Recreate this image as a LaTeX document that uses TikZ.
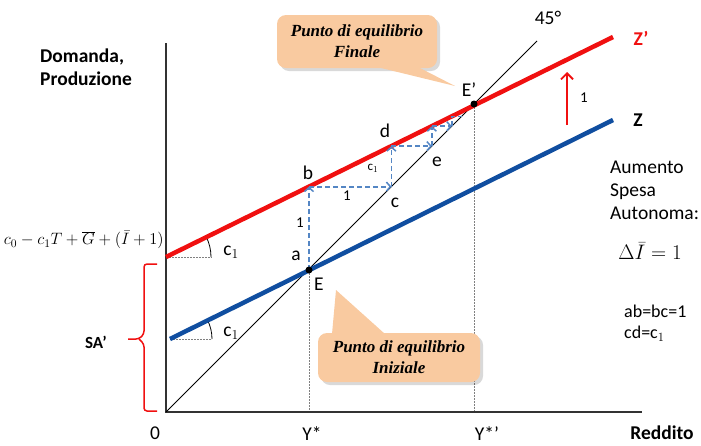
\documentclass[tikz,border=0pt]{standalone}
\usepackage{fix-cm}
\usepackage{fontspec}
\setmainfont{Carlito}
\newfontfamily\tms{Liberation Serif}
\usetikzlibrary{arrows.meta}
\definecolor{zred}{RGB}{240,16,16}
\definecolor{zblue}{RGB}{16,78,160}
\definecolor{stepblue}{RGB}{84,134,196}
\definecolor{callfill}{RGB}{249,202,160}
\definecolor{axisgray}{RGB}{50,50,50}
\tikzset{
  lbl/.style={inner sep=0pt, font=\fontsize{19.5}{23}\selectfont},
  blbl/.style={inner sep=0pt, font=\fontsize{19.5}{23}\selectfont\bfseries},
  stepar/.style={stepblue, line width=1.8pt, dash pattern=on 5pt off 3pt, -{Straight Barb[length=4pt,width=9pt,line width=1.5pt]}},
  callout/.style={fill=callfill},
  shadowfill/.style={fill=black, opacity=0.15},
  calltext/.style={inner sep=0pt, align=center, font=\tms\fontsize{17}{21}\selectfont\bfseries\itshape},
  guide/.style={gray, line width=0.9pt, dash pattern=on 1.5pt off 1.5pt},
}
\begin{document}
\begin{tikzpicture}[x=1pt,y=-1pt]
\useasboundingbox (0,0) rectangle (701,445);
% key points
\coordinate (O) at (166,412);
\coordinate (Ytop) at (166,43);
\coordinate (Xend) at (642,412);
\coordinate (L45) at (537,41);
\coordinate (E) at (309,270);
\coordinate (Ep) at (474,104);
\coordinate (Zs) at (170,339);
\coordinate (Ze) at (613,120);
\coordinate (Zps) at (166,257);
\coordinate (Zpe) at (613,37);
\coordinate (b) at (309,186.6);
\coordinate (c) at (391.4,186.6);
\coordinate (d) at (391.4,146.1);
\coordinate (e) at (431.9,146.1);
\coordinate (f) at (431.9,126.2);
\coordinate (g) at (451.8,126.2);
\coordinate (h) at (451.8,116.4);
\coordinate (i) at (461.6,116.4);

% guides
\draw[guide] (E) -- (E|-O);
\draw[guide] (Ep) -- (Ep|-O);
\draw[guide] (Zps) -- (212,257) coordinate (zpd);
\draw[guide] (Zs) -- (212,339) coordinate (zd);
\draw[black, line width=0.8pt] (211,257) arc[start angle=0, end angle=27, radius=45pt];
\draw[black, line width=0.8pt] (212,339) arc[start angle=0, end angle=27, radius=42pt];

% axes
\draw[axisgray, line width=1.8pt] (Ytop) -- (O) -- (Xend);
% 45 line
\draw[black, line width=1pt] (O) -- (L45);
% Z lines
\draw[zblue, line width=4.5pt] (Zs) -- (Ze);
\draw[zred, line width=4.5pt] (Zps) -- (Zpe);

% steps
\draw[stepar] (E) -- (b);
\draw[stepar] (b) -- (c);
\draw[stepar] (c) -- (d);
\draw[stepar] (d) -- (e);
\draw[stepar] (e) -- (f);
\draw[stepar] (f) -- (g);
\draw[stepar, -] (g) -- (h) -- (i);

% equilibrium points
\fill (E) circle (3.5pt);
\fill (Ep) circle (3.5pt);

% shift arrow
\coordinate (ra1) at (567,125);
\coordinate (ra2) at (567,72);
\draw[zred, line width=1.8pt, -{Straight Barb[length=6pt,width=12pt,line width=1.8pt]}] (ra1) -- (ra2);
\node[lbl, font=\fontsize{15}{18}\selectfont] (one3) at (584,98) {1};

% brace
\draw[zred, line width=1.5pt, rounded corners=3pt] (157,264) -- (144,264) -- (144,334) -- (139,339) -- (128,339);
\draw[zred, line width=1.5pt, rounded corners=3pt] (139,339) -- (144,344) -- (144,411) -- (157,411);
\node[blbl, font=\fontsize{17}{20}\selectfont\bfseries] (SA) at (96,342) {SA’};

% callout Finale
\fill[shadowfill, rounded corners=9pt] (280,18) rectangle (440,71);
\fill[callout, rounded corners=9pt] (277,15) rectangle (437,68);
\fill[callout] (377,67) -- (455,86) -- (418,67) -- cycle;
\node[calltext] (fin) at (357,41) {Punto di equilibrio\\Finale};

% callout Iniziale
\fill[shadowfill, rounded corners=9pt] (321,336) rectangle (483,385);
\fill[callout, rounded corners=9pt] (318,333) rectangle (480,382);
\fill[callout] (332,334) -- (336,290) -- (385,334) -- cycle;
\node[calltext] (ini) at (399,357) {Punto di equilibrio\\Iniziale};

% labels
\node[blbl, anchor=west, align=left] (dom) at (40,67) {Domanda,\\Produzione};
\node[blbl] (red) at (662,433) {Reddito};
\node[lbl] (zero) at (155,433) {0};
\node[lbl] (ys) at (312,434) {Y*};
\node[lbl] (ysp) at (487,434) {Y*’};
\node[lbl] (deg) at (548,18) {45°};
\node[blbl, text=zred] (zpl) at (641,38) {Z’};
\node[blbl] (zl) at (638,120) {Z};
\node[lbl] (Epl) at (469,90) {E’};
\node[lbl] (El) at (319,284) {E};
\node[lbl] (al) at (296,256) {a};
\node[lbl] (bl) at (308,173) {b};
\node[lbl] (cl) at (395,203) {c};
\node[lbl] (dl) at (385,131) {d};
\node[lbl] (el) at (437,162) {e};
\node[lbl, font=\fontsize{13}{15}\selectfont] (c1s) at (373,168) {c$_1$};
\node[lbl, font=\fontsize{15}{18}\selectfont] (one1) at (300,223) {1};
\node[lbl, font=\fontsize{15}{18}\selectfont] (one2) at (347,196) {1};
\node[lbl] (c1a) at (231,252) {c$_1$};
\node[lbl] (c1b) at (231,333) {c$_1$};
\node[inner sep=0pt, anchor=east, font=\fontsize{16.5}{20}\selectfont] (form) at (164,240) {$c_0 - c_1T + \overline{G} + (\bar{I}+1)$};
\node[lbl, anchor=west, align=left] (aum) at (610,190) {Aumento\\Spesa\\Autonoma:};
\node[inner sep=0pt, font=\fontsize{21}{25}\selectfont] (dI) at (650,251) {$\Delta\bar{I} = 1$};
\node[lbl, anchor=west, align=left, font=\fontsize{18}{21}\selectfont] (abbc) at (624,323) {ab=bc=1\\cd=c$_1$};
\end{tikzpicture}
\end{document}
